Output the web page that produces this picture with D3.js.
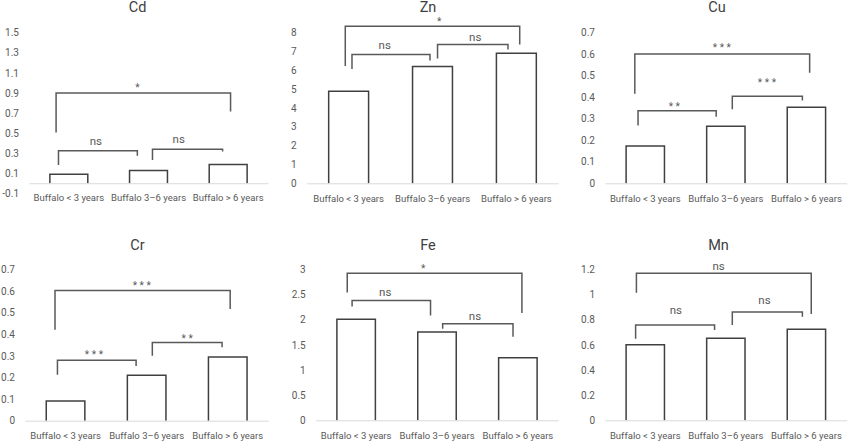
<!DOCTYPE html>
<html>
<head>
<meta charset="utf-8">
<script src="https://cdn.jsdelivr.net/npm/d3@7"></script>
<style>
  body { margin: 0; background: #fff; }
  svg { display: block; font-family: Roboto, "Liberation Sans", sans-serif; }
</style>
</head>
<body>
<div id="chartContainer"></div>
<script>
// Categories shared by every panel
const categories = ["Buffalo < 3 years", "Buffalo 3–6 years", "Buffalo > 6 years"];
const elements = ["Cd", "Zn", "Cu", "Cr", "Fe", "Mn"];

// Bar heights
const cdValues = [0.09, 0.126, 0.186];
const znValues = [4.88, 6.19, 6.89];
const cuValues = [0.173, 0.265, 0.352];
const crValues = [0.091, 0.21, 0.295];
const feValues = [2.01, 1.755, 1.245];
const mnValues = [0.601, 0.652, 0.723];

// Y tick labels
const cdTicks = [-0.1, 0.1, 0.3, 0.5, 0.7, 0.9, 1.1, 1.3, 1.5];
const znTicks = [0, 1, 2, 3, 4, 5, 6, 7, 8];
const cuTicks = [0, 0.1, 0.2, 0.3, 0.4, 0.5, 0.6, 0.7];
const crTicks = [0, 0.1, 0.2, 0.3, 0.4, 0.5, 0.6, 0.7];
const feTicks = [0, 0.5, 1, 1.5, 2, 2.5, 3];
const mnTicks = [0, 0.2, 0.4, 0.6, 0.8, 1, 1.2];

// Significance brackets: x in category units (0 = first bar centre),
// top / y1 (left leg end) / y2 (right leg end) and label centre in data units
const cdBrackets = [
    { x1: -0.13, x2: 0.86, top: 0.323, y1: 0.183, y2: 0.273, label: "ns", lx: 0.34, ly: 0.416 },
    { x1: 1.05, x2: 1.93, top: 0.34, y1: 0.233, y2: 0.316, label: "ns", lx: 1.38, ly: 0.433 },
    { x1: -0.16, x2: 2.03, top: 0.90, y1: 0.506, y2: 0.716, label: "*", lx: 0.86, ly: 0.983 }
];
const znBrackets = [
    { x1: 0.04, x2: 0.97, top: 6.83, y1: 6.05, y2: 6.51, label: "ns", lx: 0.43, ly: 7.32 },
    { x1: 1.06, x2: 1.90, top: 7.35, y1: 6.61, y2: 7.09, label: "ns", lx: 1.51, ly: 7.72 },
    { x1: -0.04, x2: 2.04, top: 8.32, y1: 6.22, y2: 7.35, label: "*", lx: 1.08, ly: 8.73 }
];
const cuBrackets = [
    { x1: -0.09, x2: 0.88, top: 0.336, y1: 0.268, y2: 0.308, label: "**", lx: 0.36, ly: 0.370 },
    { x1: 1.08, x2: 1.95, top: 0.404, y1: 0.343, y2: 0.384, label: "***", lx: 1.51, ly: 0.478 },
    { x1: -0.13, x2: 2.04, top: 0.599, y1: 0.415, y2: 0.512, label: "***", lx: 0.95, ly: 0.640 }
];
const crBrackets = [
    { x1: -0.10, x2: 0.87, top: 0.28, y1: 0.212, y2: 0.253, label: "***", lx: 0.35, ly: 0.319 },
    { x1: 1.07, x2: 1.93, top: 0.361, y1: 0.30, y2: 0.34, label: "**", lx: 1.50, ly: 0.394 },
    { x1: -0.13, x2: 2.03, top: 0.602, y1: 0.42, y2: 0.516, label: "***", lx: 0.94, ly: 0.639 }
];
const feBrackets = [
    { x1: -0.05, x2: 0.92, top: 2.38, y1: 2.26, y2: 2.08, label: "ns", lx: 0.36, ly: 2.535 },
    { x1: 1.07, x2: 1.94, top: 1.92, y1: 1.82, y2: 1.66, label: "ns", lx: 1.47, ly: 2.06 },
    { x1: -0.11, x2: 2.05, top: 2.92, y1: 2.54, y2: 2.13, label: "*", lx: 0.83, ly: 3.07 }
];
const mnBrackets = [
    { x1: -0.12, x2: 0.86, top: 0.758, y1: 0.649, y2: 0.718, label: "ns", lx: 0.38, ly: 0.871 },
    { x1: 1.08, x2: 1.95, top: 0.861, y1: 0.758, y2: 0.823, label: "ns", lx: 1.48, ly: 0.948 },
    { x1: -0.11, x2: 2.06, top: 1.168, y1: 1.014, y2: 0.845, label: "ns", lx: 0.91, ly: 1.221 }
];

const allValues = [cdValues, znValues, cuValues, crValues, feValues, mnValues];
const allTicks = [cdTicks, znTicks, cuTicks, crTicks, feTicks, mnTicks];
const allBrackets = [cdBrackets, znBrackets, cuBrackets, crBrackets, feBrackets, mnBrackets];

// Plot area of each panel (pixel of first / last tick)
const layout = [
    { left: 29, right: 268, bottom: 193.3, top: 32.7, titleX: 137.5, titleY: 12 },
    { left: 306.7, right: 558.3, bottom: 183.3, top: 32.3, titleX: 428, titleY: 12 },
    { left: 605, right: 846.7, bottom: 183.3, top: 32.3, titleX: 717, titleY: 12 },
    { left: 25, right: 268.3, bottom: 420.7, top: 269.3, titleX: 137.5, titleY: 249.5 },
    { left: 315.7, right: 558.3, bottom: 420.3, top: 269.3, titleX: 428, titleY: 249.5 },
    { left: 605, right: 846.7, bottom: 420.3, top: 269.3, titleX: 718.5, titleY: 249.5 }
];

const w = 850;
const h = 441;

const svg = d3.select("#chartContainer").append("svg")
    .attr("width", w)
    .attr("height", h);

elements.forEach((name, i) => {
    const L = layout[i];
    const values = allValues[i];
    const ticks = allTicks[i];
    const brackets = allBrackets[i];

    const g = svg.append("g");

    const x = d3.scaleBand()
        .domain(categories)
        .range([L.left, L.right])
        .padding(0);

    // category units -> pixels, centred on the bars
    const xc = d3.scaleLinear()
        .domain([-0.5, categories.length - 0.5])
        .range([L.left, L.right]);

    const y = d3.scaleLinear()
        .domain([ticks[0], ticks[ticks.length - 1]])
        .range([L.bottom, L.top]);

    // Title
    g.append("text")
        .attr("x", L.titleX)
        .attr("y", L.titleY)
        .attr("text-anchor", "middle")
        .style("font-size", "14.5px")
        .style("fill", "#404040")
        .text(name);

    // Y axis labels only
    const yAxis = g.append("g")
        .attr("transform", `translate(${L.left}, 0)`)
        .call(d3.axisLeft(y).tickValues(ticks).tickSize(0).tickPadding(10).tickFormat(d => String(d)));
    yAxis.select(".domain").remove();
    yAxis.selectAll("text")
        .style("font-size", "10px")
        .style("fill", "#595959")
        .style("font-family", "Roboto, sans-serif");

    // Bars: open at the bottom, sitting on the zero line
    const barW = x.bandwidth() * 0.476;
    g.selectAll(".bar")
        .data(values)
        .enter()
        .append("path")
        .attr("class", "bar")
        .attr("d", (d, j) => {
            const x0 = x(categories[j]) + (x.bandwidth() - barW) / 2;
            return `M${x0},${y(0)}V${y(d)}H${x0 + barW}V${y(0)}`;
        })
        .style("fill", "#fff")
        .style("stroke", "#404040")
        .style("stroke-width", 1.5);

    // X axis at zero
    const xAxis = g.append("g")
        .attr("transform", `translate(0, ${y(0)})`)
        .call(d3.axisBottom(x).tickSize(0).tickSizeOuter(0).tickPadding(11.5));
    xAxis.select(".domain")
        .style("stroke", "#d9d9d9")
        .style("stroke-width", 1);
    xAxis.selectAll("text")
        .style("font-size", "9.5px")
        .style("fill", "#595959")
        .style("font-family", "Roboto, sans-serif");

    // Significance brackets
    g.selectAll(".bracket")
        .data(brackets)
        .enter()
        .append("path")
        .attr("class", "bracket")
        .attr("d", b => `M${xc(b.x1)},${y(b.y1)}V${y(b.top)}H${xc(b.x2)}V${y(b.y2)}`)
        .style("fill", "none")
        .style("stroke", "#595959")
        .style("stroke-width", 1.5);

    g.selectAll(".sig")
        .data(brackets)
        .enter()
        .append("text")
        .attr("class", "sig")
        .attr("x", b => xc(b.lx))
        .attr("y", b => y(b.ly))
        .attr("text-anchor", "middle")
        .attr("dy", b => b.label === "ns" ? "0.3em" : "0.62em")
        .attr("dx", b => b.label === "ns" ? 0 : 1.3)
        .style("font-size", b => b.label === "ns" ? "11.5px" : "10px")
        .style("letter-spacing", b => b.label === "ns" ? "0px" : "2.6px")
        .style("fill", "#595959")
        .text(b => b.label);
});
</script>
</body>
</html>
